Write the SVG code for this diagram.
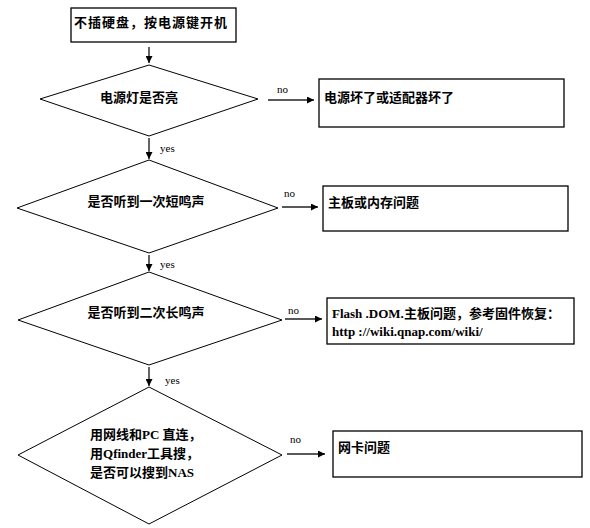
<svg xmlns="http://www.w3.org/2000/svg" width="590" height="528" viewBox="0 0 590 528">
<style>
.box{fill:#fff;stroke:#000;stroke-width:1.3}
.dia{fill:#fff;stroke:#000;stroke-width:1}
.t{font-family:"Noto Sans CJK SC","Liberation Serif",serif;font-weight:bold;font-size:13px;fill:#000}
.tl{font-family:"Liberation Serif","Noto Sans CJK SC",serif;font-weight:bold;font-size:13px;fill:#000}
.lab{font-family:"Liberation Serif",serif;font-size:11px;fill:#000}
.c{stroke:#222;stroke-width:1.4;fill:none;marker-end:url(#ah)}
</style>
<defs>
<marker id="ah" viewBox="0 0 10 10" refX="10" refY="5" markerWidth="7" markerHeight="7" markerUnits="userSpaceOnUse" orient="auto">
<path d="M0,0 L10,5 L0,10 z" fill="#000"/>
</marker>
</defs>
<rect width="590" height="528" fill="#fff"/>
<g id="start">
<rect class="box" x="71" y="8" width="165" height="34"/>
<text class="t" x="74" y="27" textLength="153">不插硬盘，按电源键开机</text>
</g>
<g id="d1">
<polygon class="dia" points="149,65 258,99 149,136 40,99"/>
<text class="t" x="139" y="102" text-anchor="middle">电源灯是否亮</text>
</g>
<g id="r1">
<rect class="box" x="319" y="79" width="245" height="48"/>
<text class="t" x="324" y="102">电源坏了或适配器坏了</text>
</g>
<g id="d2">
<polygon class="dia" points="149,160 278,208 149,253 17,208"/>
<text class="t" x="146" y="206" text-anchor="middle">是否听到一次短鸣声</text>
</g>
<g id="r2">
<rect class="box" x="323" y="186" width="245" height="45"/>
<text class="t" x="328" y="207">主板或内存问题</text>
</g>
<g id="d3">
<polygon class="dia" points="149,272 282,320 149,365 18,320"/>
<text class="t" x="146" y="317" text-anchor="middle">是否听到二次长鸣声</text>
</g>
<g id="r3">
<rect class="box" x="327" y="298" width="247" height="46"/>
<text class="tl" x="332" y="318">Flash .DOM.<tspan class="t">主板问题，参考固件恢复：</tspan></text>
<text class="tl" x="332" y="336">http ://wiki.qnap.com/wiki/</text>
</g>
<g id="d4">
<polygon class="dia" points="149,387 282,455 149,524 18,455"/>
<text class="t" x="90" y="439">用网线和<tspan class="tl">PC </tspan>直连，</text>
<text class="t" x="90" y="458">用<tspan class="tl">Qfinder</tspan>工具搜，</text>
<text class="t" x="90" y="477">是否可以搜到<tspan class="tl">NAS</tspan></text>
</g>
<g id="r4">
<rect class="box" x="333" y="431" width="249" height="46"/>
<text class="t" x="338" y="452">网卡问题</text>
</g>
<g id="connectors">
<line class="c" x1="149" y1="47" x2="149" y2="63"/>
<line class="c" x1="149" y1="138" x2="149" y2="159"/>
<line class="c" x1="149" y1="255" x2="149" y2="271"/>
<line class="c" x1="149" y1="367" x2="149" y2="386"/>
<line class="c" x1="268" y1="100" x2="314" y2="100"/>
<line class="c" x1="282" y1="207" x2="318" y2="207"/>
<line class="c" x1="285" y1="319" x2="322" y2="319"/>
<line class="c" x1="287" y1="454" x2="325" y2="454"/>
<text class="lab" x="277" y="93">no</text>
<text class="lab" x="284" y="197">no</text>
<text class="lab" x="288" y="314">no</text>
<text class="lab" x="290" y="443">no</text>
<text class="lab" x="160" y="152">yes</text>
<text class="lab" x="160" y="268">yes</text>
<text class="lab" x="165" y="384">yes</text>
</g>
</svg>
